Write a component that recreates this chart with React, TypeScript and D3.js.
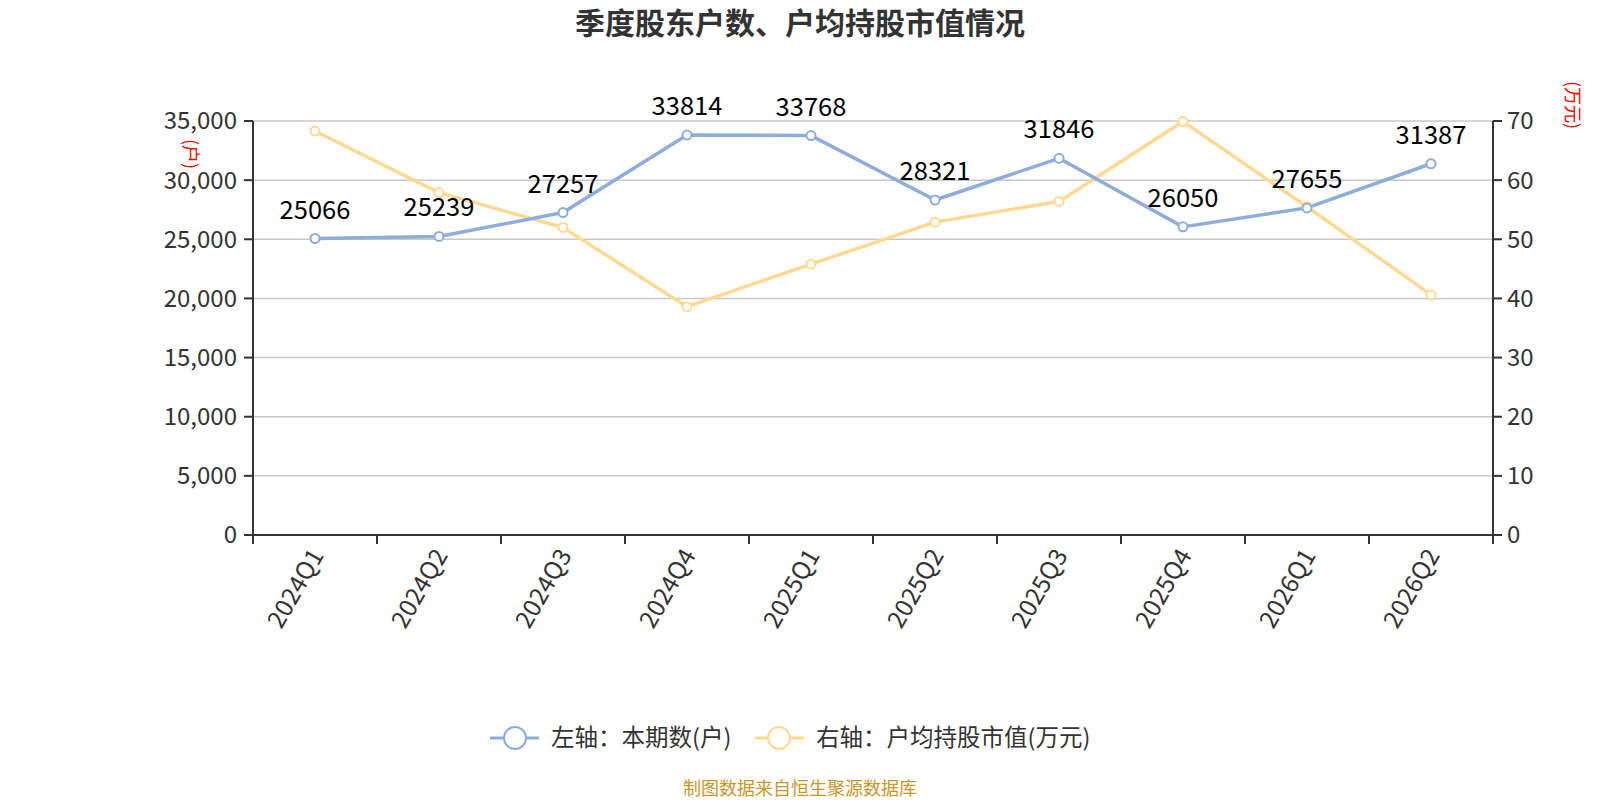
import * as d3 from 'd3'

const quarters = ['2024Q1', '2024Q2', '2024Q3', '2024Q4', '2025Q1', '2025Q2', '2025Q3', '2025Q4', '2026Q1', '2026Q2']
const holders = [25066, 25239, 27257, 33814, 33768, 28321, 31846, 26050, 27655, 31387]
const avgValue = [68.3, 57.9, 52.0, 38.6, 45.8, 52.9, 56.4, 69.9, 55.5, 40.6]
const leftTicks = [0, 5000, 10000, 15000, 20000, 25000, 30000, 35000]
const rightTicks = [0, 10, 20, 30, 40, 50, 60, 70]

const W = 1600
const H = 800
const FONT = '"Noto Sans CJK SC", "Noto Sans", sans-serif'
const BLUE = '#8eaddc'
const YELLOW = '#ffd992'
const AXIS = '#333'
const TEXT = '#333'

export default function App() {
  const margin = { left: 253, right: 1493, top: 121, bottom: 535 }
  const x = d3.scaleBand<string>().domain(quarters).range([margin.left, margin.right])
  const yL = d3.scaleLinear().domain([0, 35000]).range([margin.bottom, margin.top])
  const yR = d3.scaleLinear().domain([0, 70]).range([margin.bottom, margin.top])
  const cx = (q: string) => (x(q) ?? 0) + x.bandwidth() / 2
  const fmt = d3.format(',')

  const lineL = d3.line<number>().x((_d, i) => cx(quarters[i])).y((d) => yL(d))
  const lineR = d3.line<number>().x((_d, i) => cx(quarters[i])).y((d) => yR(d))

  return (
    <svg width={W} height={H} style={{ position: 'absolute', left: 0, top: 0, background: '#fff' }} fontFamily={FONT}>
      {/* title */}
      <text x={800} y={34} textAnchor="middle" fontSize={30} fontWeight="bold" fill={TEXT}>
        季度股东户数、户均持股市值情况
      </text>

      {/* grid */}
      {leftTicks.slice(1).map((t) => (
        <line key={t} x1={margin.left} x2={margin.right} y1={yL(t)} y2={yL(t)} stroke="#c8c8c8" strokeWidth={1.5} />
      ))}

      {/* left axis */}
      <line x1={margin.left} x2={margin.left} y1={margin.top} y2={margin.bottom} stroke={AXIS} strokeWidth={2} />
      {leftTicks.map((t) => (
        <g key={t}>
          <line x1={margin.left - 9} x2={margin.left} y1={yL(t)} y2={yL(t)} stroke={AXIS} strokeWidth={2} />
          <text x={margin.left - 16} y={yL(t)} dy="0.35em" textAnchor="end" fontSize={24} fill={TEXT}>
            {fmt(t)}
          </text>
        </g>
      ))}
      <text transform="translate(190,154) rotate(90)" textAnchor="middle" dy="0.35em" fontSize={18} fill="#ff0000">
        (户)
      </text>

      {/* right axis */}
      <line x1={margin.right} x2={margin.right} y1={margin.top} y2={margin.bottom} stroke={AXIS} strokeWidth={2} />
      {rightTicks.map((t) => (
        <g key={t}>
          <line x1={margin.right} x2={margin.right + 9} y1={yR(t)} y2={yR(t)} stroke={AXIS} strokeWidth={2} />
          <text x={margin.right + 14} y={yR(t)} dy="0.35em" textAnchor="start" fontSize={24} fill={TEXT}>
            {t}
          </text>
        </g>
      ))}
      <text transform="translate(1572,105) rotate(90)" textAnchor="middle" dy="0.35em" fontSize={18} fill="#ff0000">
        (万元)
      </text>

      {/* x axis */}
      <line x1={margin.left - 9} x2={margin.right + 9} y1={margin.bottom} y2={margin.bottom} stroke={AXIS} strokeWidth={2} />
      {[...quarters.map((q) => x(q) ?? 0), margin.right].map((v, i) => (
        <line key={i} x1={v} x2={v} y1={margin.bottom} y2={margin.bottom + 9} stroke={AXIS} strokeWidth={2} />
      ))}
      {quarters.map((q) => (
        <text
          key={q}
          transform={`translate(${cx(q) + 2},${margin.bottom + 16}) rotate(-60)`}
          textAnchor="end"
          dy="0.35em"
          fontSize={24.5}
          fill={TEXT}
        >
          {q}
        </text>
      ))}

      {/* series */}
      <path d={lineR(avgValue) ?? ''} fill="none" stroke={YELLOW} strokeWidth={3.5} strokeLinejoin="round" />
      <path d={lineL(holders) ?? ''} fill="none" stroke={BLUE} strokeWidth={3.5} strokeLinejoin="round" />
      {avgValue.map((v, i) => (
        <circle key={i} cx={cx(quarters[i])} cy={yR(v)} r={4.5} fill="#fff" stroke={YELLOW} strokeWidth={2} />
      ))}
      {holders.map((v, i) => (
        <circle key={i} cx={cx(quarters[i])} cy={yL(v)} r={4.5} fill="#fff" stroke={BLUE} strokeWidth={2} />
      ))}
      {holders.map((v, i) => (
        <text key={i} x={cx(quarters[i])} y={yL(v) - 20} textAnchor="middle" fontSize={25.5} fill="#000">
          {v}
        </text>
      ))}

      {/* legend */}
      <g>
        <line x1={490} x2={539} y1={738} y2={738} stroke={BLUE} strokeWidth={3} />
        <circle cx={515} cy={738} r={11} fill="#fff" stroke={BLUE} strokeWidth={2} />
        <text x={551} y={738} dy="0.35em" fontSize={23.5} fill={TEXT}>
          左轴：本期数(户)
        </text>
        <line x1={755} x2={804} y1={738} y2={738} stroke={YELLOW} strokeWidth={3} />
        <circle cx={779} cy={738} r={11} fill="#fff" stroke={YELLOW} strokeWidth={2} />
        <text x={816} y={738} dy="0.35em" fontSize={23.5} fill={TEXT}>
          右轴：户均持股市值(万元)
        </text>
      </g>

      {/* source */}
      <text x={800} y={789} dy="0.35em" textAnchor="middle" fontSize={18} fill="#c9962b">
        制图数据来自恒生聚源数据库
      </text>
    </svg>
  )
}
